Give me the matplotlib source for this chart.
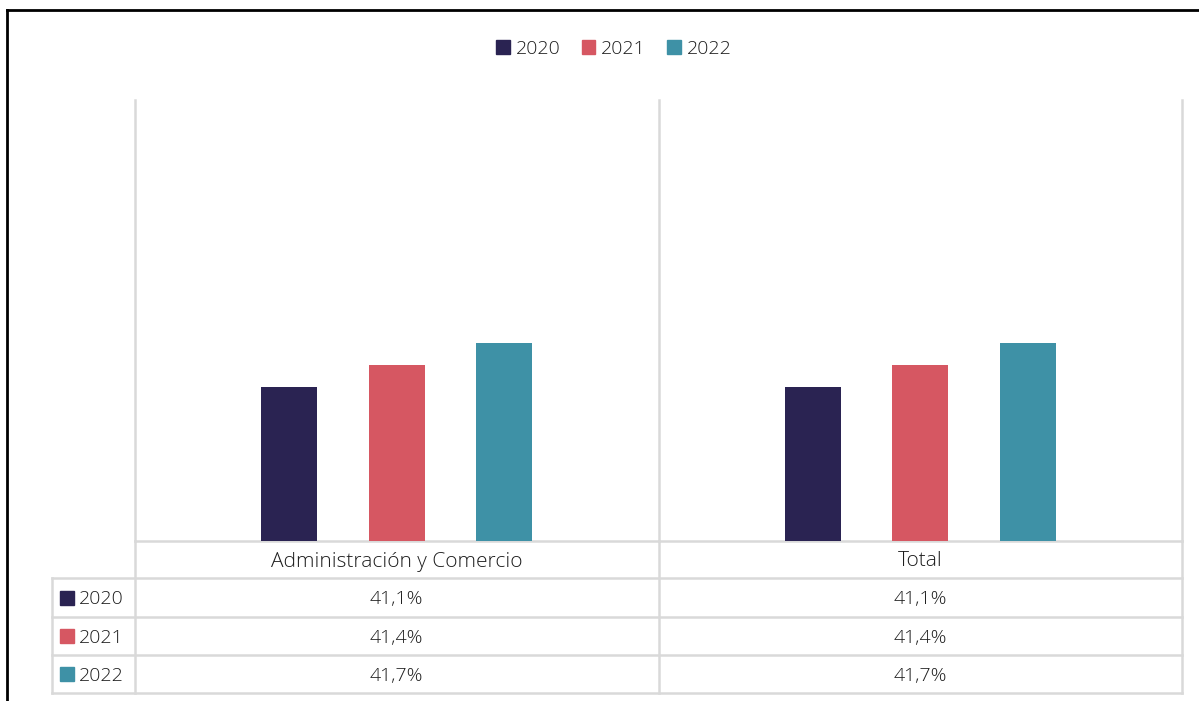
import numpy as np
import matplotlib
matplotlib.use("Agg")
import matplotlib.pyplot as plt
import matplotlib.transforms as mtransforms
from matplotlib.patches import Patch, Rectangle

# Data
categories = ["Administración y Comercio", "Total"]
years = ["2020", "2021", "2022"]
val_2020 = [41.1, 41.1]
val_2021 = [41.4, 41.4]
val_2022 = [41.7, 41.7]
series = [val_2020, val_2021, val_2022]
colors = ["#2a2352", "#d65762", "#3e91a6"]

plt.rcParams['font.family'] = ['Open Sans', 'DejaVu Sans']
plt.rcParams['font.weight'] = 'light'
W, H = 1199, 701
fig = plt.figure(figsize=(W / 100, H / 100), dpi=100)

# overlay axes in pixel coordinates (for table lines and frame)
ov = fig.add_axes([0, 0, 1, 1], zorder=0)
ov.set_xlim(0, W)
ov.set_ylim(H, 0)
ov.axis('off')

# plot area
left, right, top, base = 135, 1182, 100, 541
ax = fig.add_axes([left / W, 1 - base / H, (right - left) / W, (base - top) / H], zorder=1)
ax.patch.set_alpha(0)
x = np.arange(len(categories))
offsets = [-0.205, 0, 0.205]
for vals, off, c in zip(series, offsets, colors):
    ax.bar(x + off, vals, width=0.107, color=c)
ax.set_xlim(-0.5, len(categories) - 0.5)
ax.set_ylim(39, 45)
ax.axis('off')

grid = "#d9d9d9"
lw = 1.8
# vertical grid lines through plot and table
for xc in range(len(categories) + 1):
    ax.axvline(xc - 0.5, color=grid, lw=lw, clip_on=False)
blend = mtransforms.blended_transform_factory(ax.transData, ov.transData)
row_y = [541, 578, 617, 655, 693]
for xc in range(len(categories) + 1):
    ov.plot([xc - 0.5, xc - 0.5], [base, row_y[-1]], color=grid, lw=lw, transform=blend)
ov.plot([52, 52], [row_y[1], row_y[-1]], color=grid, lw=lw)
ov.plot([left, right], [row_y[0], row_y[0]], color=grid, lw=lw)
for yy in row_y[1:]:
    ov.plot([52, right], [yy, yy], color=grid, lw=lw)

fs = 14
tc = '#1e1e1e'
# header row
for i, cat in enumerate(categories):
    ov.text(i, (row_y[0] + row_y[1]) / 2 + 2, cat, transform=blend, ha='center',
            va='center', fontsize=fs + 1, color=tc)
# data rows
for r, (yr, vals, c) in enumerate(zip(years, series, colors)):
    yc = (row_y[r + 1] + row_y[r + 2]) / 2
    ov.add_patch(Rectangle((60, yc - 7), 14, 14, color=c))
    ov.text(79, yc + 2, yr, ha='left', va='center', fontsize=fs, color=tc)
    for i, v in enumerate(vals):
        ov.text(i, yc + 2, f"{v:.1f}%".replace('.', ','), transform=blend,
                ha='center', va='center', fontsize=fs, color=tc)

# legend
handles = [Patch(color=c, label=y) for c, y in zip(colors, years)]
fig.legend(handles=handles, loc='center', bbox_to_anchor=(614 / W, 1 - 49 / H),
           ncol=3, frameon=False, fontsize=14, handlelength=0.7, handleheight=0.7,
           handletextpad=0.3, columnspacing=1.1, labelcolor=tc)

# outer frame lines
ov.plot([7, W], [10, 10], color='black', lw=2)
ov.plot([7, 7], [10, H], color='black', lw=2)

fig.savefig("out.png", dpi=100)
